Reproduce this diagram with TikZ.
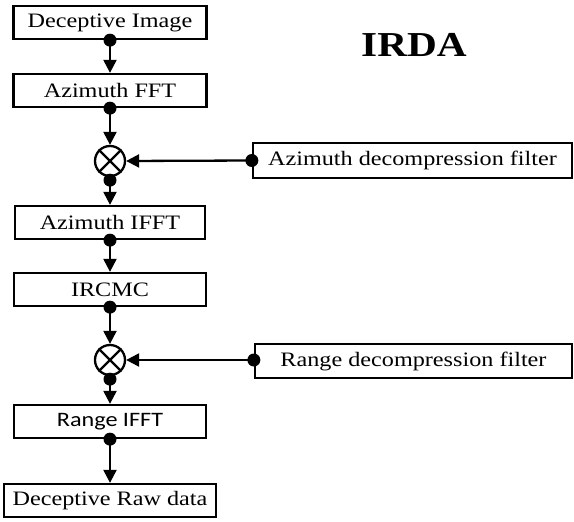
\documentclass[tikz,border=0pt]{standalone}
\usepackage{fontspec}
\setmainfont[FakeStretch=1.18]{Liberation Serif}
\newfontfamily\carlitofont[FakeStretch=1.18]{Carlito}
\usetikzlibrary{arrows.meta}
\begin{document}
\begin{tikzpicture}[x=1pt,y=-1pt,
  box/.style={draw, line width=2.3pt, inner sep=0pt, minimum height=33pt,
    font=\fontsize{20.5}{22}\selectfont},
  mult/.style={draw, circle, line width=2.3pt, minimum size=30pt, inner sep=0pt},
  flow/.style={line width=2.3pt, -{Triangle[length=13pt,width=13pt]}},
  dotc/.style={fill=black}]
\useasboundingbox (0,0) rectangle (574,522);
\node[box, minimum width=193pt] (img) at (110,22.5) {Deceptive Image};
\node[box, minimum width=193pt] (fft) at (110,90.5) {Azimuth FFT};
\node[mult] (m1) at (110,161) {};
\node[box, minimum width=190pt] (ifft) at (110,222.5) {Azimuth IFFT};
\node[box, minimum width=192pt] (ircmc) at (110,289.5) {IRCMC};
\node[mult] (m2) at (110,360) {};
\node[box, minimum width=192pt, font=\carlitofont\fontsize{20.5}{22}\selectfont] (rifft) at (110,421.5) {Range IFFT};
\node[box, minimum width=212pt] (raw) at (110,500.5) {Deceptive Raw data};
\node[box, minimum width=319pt, minimum height=35pt] (azf) at (412.5,160.5) {Azimuth decompression filter};
\node[box, minimum width=317pt, minimum height=34pt] (rgf) at (413.5,361) {Range decompression filter};
\node[font=\fontsize{35}{38}\selectfont\bfseries] (title) at (414,45) {IRDA};
% X marks in the multipliers
\foreach \m in {m1,m2}{
  \draw[line width=2.3pt] (\m.north east) -- (\m.south west);
  \draw[line width=2.3pt] (\m.north west) -- (\m.south east);
}
% vertical flow
\draw[flow] (img.south) -- (fft.north);
\draw[flow] (fft.south) -- (m1.north);
\draw[flow] (m1.south) -- (ifft.north);
\draw[flow] (ifft.south) -- (ircmc.north);
\draw[flow] (ircmc.south) -- (m2.north);
\draw[flow] (m2.south) -- (rifft.north);
\draw[flow] (rifft.south) -- (raw.north);
% filter inputs
\draw[flow] (azf.west) -- (m1.east);
\draw[flow] (rgf.west |- m2.east) -- (m2.east);
% dots
\foreach \p in {img.south,fft.south,ifft.south,ircmc.south,rifft.south,azf.west}{
  \fill[dotc] (\p) circle (6.5pt);
}
\fill[dotc] (rgf.west |- m2.east) circle (6.5pt);
\fill[dotc] ([yshift=-3pt]m1.south) circle (6.5pt);
\fill[dotc] ([yshift=-3pt]m2.south) circle (6.5pt);
\end{tikzpicture}
\end{document}
